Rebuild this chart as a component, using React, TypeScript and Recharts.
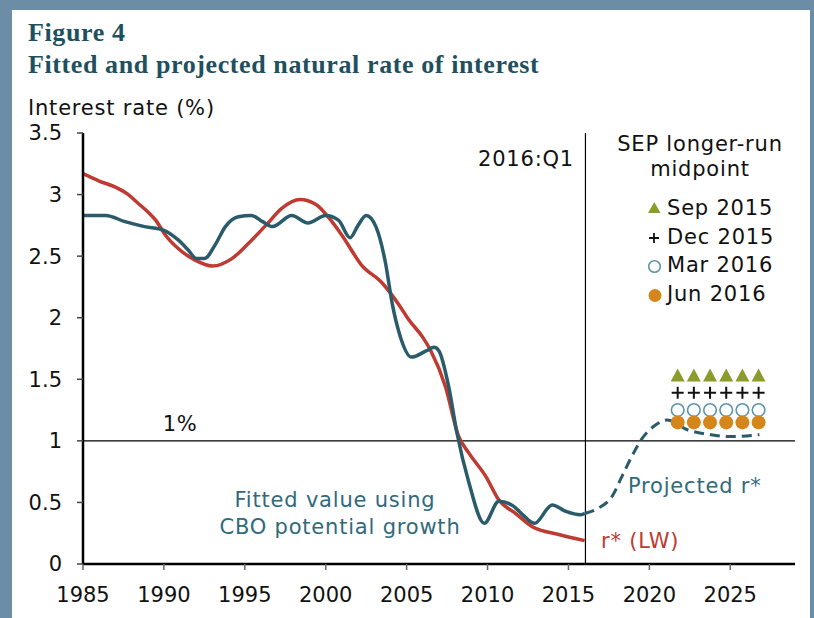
import React from 'react'
import { ComposedChart, Line, Scatter, XAxis, YAxis, ReferenceLine } from 'recharts'

// axis ticks
const yearTicks = [1985, 1990, 1995, 2000, 2005, 2010, 2015, 2020, 2025]
const rateTicks = [0, 0.5, 1, 1.5, 2, 2.5, 3, 3.5]

// r* (Laubach-Williams)
const lwYears = [1985, 1986, 1987, 1987.8, 1988.4, 1989, 1989.5, 1990.1, 1990.9, 1991.9, 1993, 1994.2, 1995.2, 1996.3, 1997.3, 1998.4, 1999.4, 2000.2, 2001, 2002.2, 2003.5, 2004.5, 2005.1, 2006, 2006.5, 2007.4, 2008.2, 2008.85, 2009.9, 2010.7, 2011.75, 2012.8, 2014.4, 2016]
const lwRates = [3.17, 3.11, 3.06, 3.0, 2.93, 2.86, 2.79, 2.67, 2.56, 2.47, 2.42, 2.48, 2.6, 2.75, 2.89, 2.96, 2.92, 2.81, 2.67, 2.43, 2.28, 2.11, 1.99, 1.84, 1.73, 1.44, 1.04, 0.9, 0.71, 0.52, 0.41, 0.3, 0.24, 0.19]

// fitted value using CBO potential growth
const fittedYears = [1985, 1986.4, 1987.6, 1988.8, 1990, 1990.9, 1991.5, 1992, 1992.5, 1993.2, 1993.8, 1994.6, 1995.4, 1996.1, 1996.7, 1997.9, 1998.9, 2000, 2000.8, 2001.5, 2002, 2002.5, 2003.1, 2003.7, 2004.1, 2004.6, 2005.3, 2006.2, 2006.7, 2007, 2007.6, 2008.1, 2008.85, 2009.8, 2010.7, 2011.6, 2012.25, 2012.9, 2014, 2014.8, 2015.76, 2016]
const fittedRates = [2.83, 2.83, 2.78, 2.74, 2.71, 2.63, 2.55, 2.48, 2.48, 2.6, 2.74, 2.82, 2.83, 2.78, 2.74, 2.83, 2.77, 2.83, 2.79, 2.65, 2.75, 2.83, 2.74, 2.44, 2.12, 1.85, 1.68, 1.73, 1.76, 1.73, 1.44, 1.07, 0.66, 0.33, 0.51, 0.47, 0.39, 0.33, 0.48, 0.43, 0.4, 0.41]

// projected r*
const projYears = [2016, 2016.8, 2017.7, 2018.3, 2018.9, 2019.5, 2020.4, 2021.1, 2022.35, 2023.8, 2025, 2026.8]
const projRates = [0.41, 0.45, 0.55, 0.71, 0.87, 1.01, 1.13, 1.17, 1.09, 1.05, 1.035, 1.05]

// SEP longer-run midpoints
const sepYears = [2021.75, 2022.75, 2023.75, 2024.75, 2025.75, 2026.75]
const sep2015 = [1.53, 1.53, 1.53, 1.53, 1.53, 1.53]
const dec2015 = [1.39, 1.39, 1.39, 1.39, 1.39, 1.39]
const mar2016 = [1.25, 1.25, 1.25, 1.25, 1.25, 1.25]
const jun2016 = [1.15, 1.15, 1.15, 1.15, 1.15, 1.15]

const pairs = (xs: number[], ys: number[]) => xs.map((x, i) => ({ x, y: ys[i] }))

const TEAL = '#2a5b6b'
const RED = '#bf3a30'
const OLIVE = '#8c9c2c'
const RING = '#5f95a8'
const ORANGE = '#d4861a'
const NOTE = '#2f6a7c'
const FONT = '"DejaVu Sans", Verdana, sans-serif'

const Triangle = (p: any) => <path d={`M${p.cx},${p.cy - 7} L${p.cx + 7},${p.cy + 6} L${p.cx - 7},${p.cy + 6} Z`} fill={OLIVE} />
const Plus = (p: any) => <path d={`M${p.cx - 6},${p.cy} H${p.cx + 6} M${p.cx},${p.cy - 6} V${p.cy + 6}`} stroke="#111" strokeWidth={2} />
const Ring = (p: any) => <circle cx={p.cx} cy={p.cy} r={6.3} fill="#fff" stroke={RING} strokeWidth={1.6} />
const Dot = (p: any) => <circle cx={p.cx} cy={p.cy} r={7} fill={ORANGE} />

const tickStyle = { fontSize: 21, fontFamily: FONT, fill: '#111' }
const titleStyle: React.CSSProperties = {
  position: 'absolute', left: 28, fontFamily: '"Liberation Serif", serif', fontWeight: 700,
  fontSize: 26, lineHeight: '26px', letterSpacing: 0.6, color: '#1e5060', whiteSpace: 'nowrap',
}

export default function App() {
  return (
    <div style={{ position: 'absolute', left: 0, top: 0, width: 814, height: 618, background: '#6b8ea6', overflow: 'hidden' }}>
      <div style={{ position: 'absolute', left: 12, top: 10, width: 798, height: 620, background: '#fff' }} />

      <div style={{ ...titleStyle, top: 20 }}>Figure 4</div>
      <div style={{ ...titleStyle, top: 52 }}>Fitted and projected natural rate of interest</div>

      <div style={{ position: 'absolute', left: 0, top: 0 }}>
        <ComposedChart width={814} height={618} margin={{ top: 133, right: 19, bottom: 14, left: 23 }}>
          <XAxis
            dataKey="x"
            type="number"
            domain={[1985, 2029]}
            ticks={yearTicks}
            interval={0}
            allowDataOverflow
            height={40}
            tick={tickStyle}
            tickSize={6}
            tickMargin={17}
            axisLine={{ stroke: '#000', strokeWidth: 2.5 }}
            tickLine={{ stroke: '#666', strokeWidth: 1.5 }}
          />
          <YAxis
            type="number"
            domain={[0, 3.5]}
            ticks={rateTicks}
            interval={0}
            width={60}
            tick={tickStyle}
            tickSize={6}
            tickMargin={15}
            axisLine={{ stroke: '#000', strokeWidth: 2.5 }}
            tickLine={{ stroke: '#444', strokeWidth: 1.5 }}
          />
          <ReferenceLine y={1} stroke="#000" strokeWidth={1.2} />
          <ReferenceLine x={2016.05} stroke="#000" strokeWidth={1.2} />
          <Line data={pairs(lwYears, lwRates)} dataKey="y" type="monotone" stroke={RED} strokeWidth={3.5} dot={false} isAnimationActive={false} />
          <Line data={pairs(fittedYears, fittedRates)} dataKey="y" type="monotone" stroke={TEAL} strokeWidth={3.5} dot={false} isAnimationActive={false} />
          <Line data={pairs(projYears, projRates)} dataKey="y" type="monotone" stroke={TEAL} strokeWidth={3} strokeDasharray="10 6" dot={false} isAnimationActive={false} />
          <Scatter data={pairs(sepYears, sep2015)} dataKey="y" shape={Triangle} isAnimationActive={false} />
          <Scatter data={pairs(sepYears, dec2015)} dataKey="y" shape={Plus} isAnimationActive={false} />
          <Scatter data={pairs(sepYears, mar2016)} dataKey="y" shape={Ring} isAnimationActive={false} />
          <Scatter data={pairs(sepYears, jun2016)} dataKey="y" shape={Dot} isAnimationActive={false} />
        </ComposedChart>
      </div>

      <svg width={814} height={618} style={{ position: 'absolute', left: 0, top: 0, pointerEvents: 'none' }} fontFamily={FONT} fontSize={21} letterSpacing={0.8}>
        <text x={28} y={115} fill="#111">Interest rate (%)</text>
        <text x={574} y={165.7} fill="#111" textAnchor="end">2016:Q1</text>
        <text x={162.7} y={430.7} fill="#111">1%</text>
        <text x={700} y={150.5} fill="#111" textAnchor="middle">SEP longer-run</text>
        <text x={700} y={175.5} fill="#111" textAnchor="middle">midpoint</text>

        <path d="M654.3,202 L660.5,213 L648,213 Z" fill={OLIVE} />
        <path d="M649,238 H659 M654,233 V243" stroke="#111" strokeWidth={1.8} />
        <circle cx={654.5} cy={266.5} r={5.8} fill="#fff" stroke={RING} strokeWidth={1.6} />
        <circle cx={655} cy={295.5} r={6.5} fill={ORANGE} />
        <text x={667} y={215} fill="#111">Sep 2015</text>
        <text x={667} y={243.5} fill="#111">Dec 2015</text>
        <text x={667} y={272} fill="#111">Mar 2016</text>
        <text x={667} y={300.5} fill="#111">Jun 2016</text>

        <text x={335} y={507} fill={NOTE} textAnchor="middle">Fitted value using</text>
        <text x={340} y={533.5} fill={NOTE} textAnchor="middle">CBO potential growth</text>
        <text x={628} y={492.5} fill={NOTE}>Projected r*</text>
        <text x={601} y={548} fill={RED}>r* (LW)</text>
      </svg>
    </div>
  )
}
